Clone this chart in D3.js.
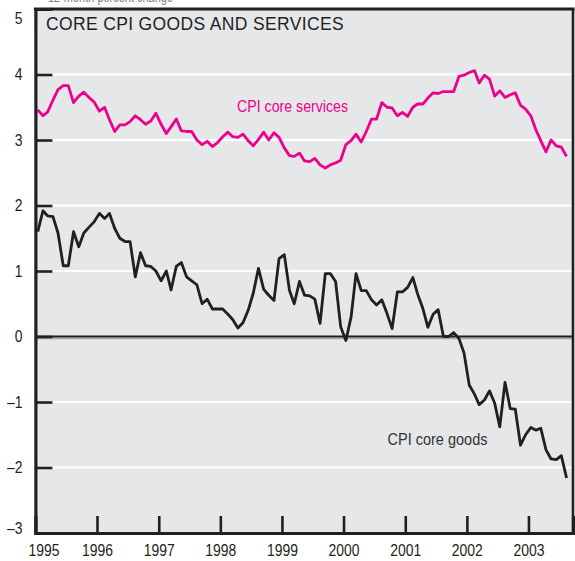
<!DOCTYPE html>
<html>
<head>
<meta charset="utf-8">
<script src="https://cdn.jsdelivr.net/npm/d3@7"></script>
<style>
  html, body { margin: 0; padding: 0; background: #ffffff; }
  svg { display: block; }
  .narrow, .narrow text { font-family: "Liberation Sans", Arial, Helvetica, sans-serif; }
  .wide { font-family: "Liberation Sans", Arial, Helvetica, sans-serif; }
</style>
</head>
<body>
<svg id="chart" width="575" height="561"></svg>
<script>
// ---- Data (monthly, Jan 1995 – Aug 2003), 12-month percent change ----
const startYear = 1995;
const startMonth = 0; // January
const servicesValues = [
  3.46, 3.37, 3.43, 3.61, 3.77, 3.83, 3.83, 3.57, 3.67, 3.73, 3.65, 3.58,
  3.44, 3.50, 3.31, 3.13, 3.23, 3.23, 3.28, 3.37, 3.31, 3.24, 3.29, 3.41,
  3.24, 3.10, 3.20, 3.32, 3.14, 3.13, 3.13, 3.00, 2.93, 2.98, 2.90, 2.96,
  3.05, 3.12, 3.05, 3.04, 3.09, 2.99, 2.91, 3.01, 3.12, 3.00, 3.11, 3.04,
  2.88, 2.76, 2.75, 2.80, 2.68, 2.67, 2.72, 2.62, 2.57, 2.62, 2.65, 2.69,
  2.93, 2.99, 3.09, 2.97, 3.13, 3.32, 3.32, 3.57, 3.50, 3.49, 3.37, 3.42,
  3.36, 3.50, 3.55, 3.55, 3.64, 3.72, 3.71, 3.74, 3.74, 3.74, 3.97, 3.99,
  4.03, 4.06, 3.87, 3.99, 3.93, 3.67, 3.75, 3.65, 3.69, 3.72, 3.53, 3.47,
  3.37, 3.15, 2.99, 2.82, 3.00, 2.91, 2.89, 2.75
];
const goodsValues = [
  1.60, 1.92, 1.84, 1.83, 1.58, 1.08, 1.08, 1.60, 1.37, 1.58, 1.67, 1.75,
  1.88, 1.80, 1.88, 1.65, 1.50, 1.45, 1.45, 0.91, 1.28, 1.08, 1.07, 1.00,
  0.85, 1.00, 0.71, 1.07, 1.13, 0.91, 0.85, 0.79, 0.50, 0.57, 0.42, 0.42,
  0.42, 0.34, 0.26, 0.13, 0.21, 0.40, 0.66, 1.04, 0.72, 0.63, 0.55, 1.19,
  1.25, 0.70, 0.50, 0.84, 0.63, 0.62, 0.57, 0.20, 0.96, 0.96, 0.84, 0.15,
  -0.06, 0.30, 0.96, 0.70, 0.70, 0.56, 0.48, 0.56, 0.35, 0.12, 0.68, 0.68,
  0.75, 0.90, 0.65, 0.43, 0.14, 0.34, 0.41, 0.00, 0.00, 0.06, -0.03, -0.25,
  -0.74, -0.88, -1.04, -0.97, -0.83, -1.02, -1.38, -0.70, -1.10, -1.11, -1.66, -1.50,
  -1.39, -1.43, -1.40, -1.73, -1.87, -1.88, -1.82, -2.16
];
const yTickValues = [5, 4, 3, 2, 1, 0, -1, -2, -3];
const xTickYears = [1995, 1996, 1997, 1998, 1999, 2000, 2001, 2002, 2003];
const titleText = "CORE CPI GOODS AND SERVICES";
const unitText = "12-month percent change";
const servicesLabel = "CPI core services";
const goodsLabel = "CPI core goods";

// ---- Layout ----
const svg = d3.select("#chart");
const L = 35.4, R = 573, T = 9, B = 533;
const dark = "#231f20";
const pink = "#ec008c";
const SX = 0.82; // horizontal condensing factor for the narrow face

const x = d3.scaleTime()
  .domain([new Date(1995, 0, 1), new Date(2003, 8, 22)])
  .range([L, R]);
const y = d3.scaleLinear().domain([-3, 5]).range([B, T]);

const dateOf = i => new Date(startYear, startMonth + i, 15);
const services = servicesValues.map((v, i) => ({ d: dateOf(i), v }));
const goods = goodsValues.map((v, i) => ({ d: dateOf(i), v }));

// background
svg.append("rect").attr("x", L).attr("y", T).attr("width", R - L).attr("height", B - T)
  .attr("fill", "#e6e7e9");

// white gridlines
svg.append("g").selectAll("line").data(yTickValues.filter(v => v !== 0 && v !== 5 && v !== -3))
  .join("line")
  .attr("x1", L).attr("x2", R)
  .attr("y1", d => y(d)).attr("y2", d => y(d))
  .attr("stroke", "#ffffff").attr("stroke-width", 2.2);

// zero line
svg.append("line").attr("x1", L).attr("x2", R).attr("y1", y(0) + 2).attr("y2", y(0) + 2)
  .attr("stroke", "#a7a9ac").attr("stroke-width", 1.5);
svg.append("line").attr("x1", L).attr("x2", R).attr("y1", y(0)).attr("y2", y(0))
  .attr("stroke", dark).attr("stroke-width", 2.2);

// lines
const line = d3.line().x(d => x(d.d)).y(d => y(d.v)).curve(d3.curveLinear);
svg.append("path").datum(services).attr("d", line)
  .attr("fill", "none").attr("stroke", pink).attr("stroke-width", 2.8)
  .attr("stroke-linejoin", "round");
svg.append("path").datum(goods).attr("d", line)
  .attr("fill", "none").attr("stroke", dark).attr("stroke-width", 2.8)
  .attr("stroke-linejoin", "round");

// frame: top and right borders
svg.append("line").attr("x1", L - 1.5).attr("x2", R + 1.5).attr("y1", T).attr("y2", T)
  .attr("stroke", dark).attr("stroke-width", 2.8);
svg.append("line").attr("x1", R).attr("x2", R).attr("y1", T).attr("y2", B)
  .attr("stroke", dark).attr("stroke-width", 2.6);

// y axis
const fmt = v => v < 0 ? "\u2013" + Math.abs(v) : String(v);
const yAxis = svg.append("g").attr("class", "narrow").attr("transform", `translate(${L},0)`)
  .call(d3.axisLeft(y).tickValues(yTickValues).tickFormat(fmt).tickSize(-17).tickPadding(13));
yAxis.select(".domain").attr("stroke", dark).attr("stroke-width", 3.2);
yAxis.selectAll(".tick line").attr("stroke", dark).attr("stroke-width", 2.6);
yAxis.selectAll(".tick text")
  .attr("fill", "#231f20").style("font-size", "17px")
  .attr("x", -13 / SX).attr("transform", `scale(${SX},1)`);
yAxis.selectAll(".tick").filter(d => d === 5).select("text").attr("y", 9);
yAxis.selectAll(".tick").filter(d => d === -3).select("text").attr("y", -5);

// x axis
const xAxis = svg.append("g").attr("class", "narrow").attr("transform", `translate(0,${B})`)
  .call(d3.axisBottom(x).tickValues(xTickYears.map(yr => new Date(yr, 0, 1)))
    .tickFormat(d3.timeFormat("%Y")).tickSize(-17).tickPadding(11));
xAxis.select(".domain").attr("stroke", dark).attr("stroke-width", 3.2);
xAxis.selectAll(".tick line").attr("stroke", dark).attr("stroke-width", 2.6);
xAxis.selectAll(".tick text")
  .attr("fill", "#231f20").style("font-size", "17px")
  .attr("transform", `scale(${SX},1)`);
xAxis.selectAll(".tick").filter(d => d.getFullYear() === 1995).select("line").remove();
xAxis.selectAll(".tick").filter(d => d.getFullYear() === 1995).select("text").attr("x", 8 / SX);

// title and labels
svg.append("text").attr("class", "wide").attr("x", 46).attr("y", 30)
  .attr("fill", dark).style("font-size", "17.5px").style("letter-spacing", "0.35px")
  .text(titleText);
svg.append("text").attr("class", "narrow").attr("x", 48).attr("y", 1.5)
  .attr("fill", "#808285").style("font-size", "14px")
  .attr("textLength", 125).attr("lengthAdjust", "spacingAndGlyphs")
  .text(unitText);
svg.append("text").attr("class", "narrow").attr("x", 237).attr("y", 111.5)
  .attr("fill", pink).style("font-size", "17px")
  .attr("textLength", 111).attr("lengthAdjust", "spacingAndGlyphs")
  .text(servicesLabel);
svg.append("text").attr("class", "narrow").attr("x", 387.5).attr("y", 445)
  .attr("fill", "#333333").style("font-size", "17px")
  .attr("textLength", 100).attr("lengthAdjust", "spacingAndGlyphs")
  .text(goodsLabel);
</script>
</body>
</html>
